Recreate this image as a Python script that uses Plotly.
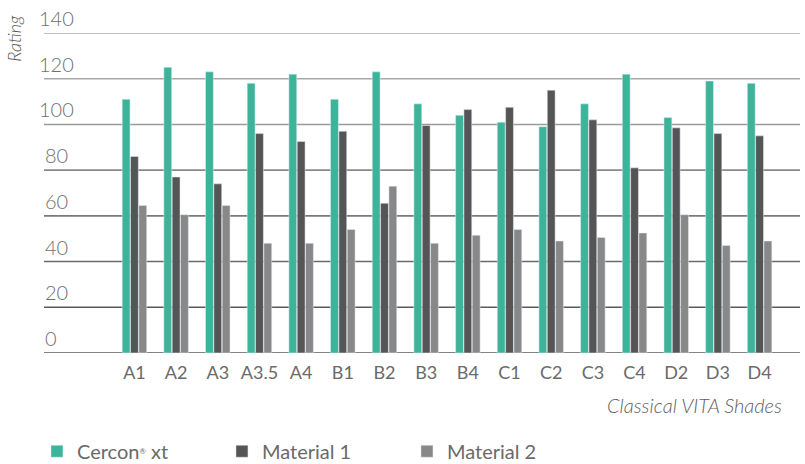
import plotly.graph_objects as go

shades = ["A1", "A2", "A3", "A3.5", "A4", "B1", "B2", "B3", "B4",
          "C1", "C2", "C3", "C4", "D2", "D3", "D4"]
cercon = [111, 125, 123, 118, 122, 111, 123, 109, 104, 101, 99, 109, 122, 103, 119, 118]
material1 = [86, 77, 74, 96, 92.5, 97, 65.5, 99.5, 106.5, 107.5, 115, 102, 81, 98.5, 96, 95]
material2 = [64.5, 60.5, 64.5, 48, 48, 54, 73, 48, 51.5, 54, 49, 50.5, 52.5, 60.5, 47, 49]
y_ticks = [0, 20, 40, 60, 80, 100, 120, 140]
grid_colors = ["#5a5a5a", "#5a5a5a", "#6a6a6a", "#7a7a7a", "#8a8a8a", "#9a9a9a", "#a8a8a8", "#aaaaaa"]

FONT = "Lato Light, Lato"
FONT_REG = "Lato"

fig = go.Figure()
fig.add_trace(go.Bar(name="Cercon<span style='font-size:11px'><sup>®</sup></span> xt",
                     x=shades, y=cercon, marker_color="#3db39a"))
fig.add_trace(go.Bar(name="Material 1", x=shades, y=material1, marker_color="#555555"))
fig.add_trace(go.Bar(name="Material 2", x=shades, y=material2, marker_color="#888888"))

shapes = []
for v, c in zip(y_ticks, grid_colors):
    shapes.append(dict(type="line", xref="paper", x0=0, x1=1, yref="y", y0=v, y1=v,
                       line=dict(color=c, width=1.6), layer="below"))

annotations = []
for v in y_ticks:
    label = str(v)
    annotations.append(dict(text=label, xref="paper", x=0, yref="y", y=v,
                            xanchor="left", yanchor="bottom", showarrow=False,
                            font=dict(family=FONT, size=20, color="#707070", weight=300),
                            xshift=-7 if label.startswith("1") else -1, yshift=1))
annotations.append(dict(text="<i>Rating</i>", xref="paper", x=-0.039, yref="paper", y=0.984,
                        textangle=-90, showarrow=False, xanchor="center", yanchor="middle",
                        font=dict(family=FONT, size=18, color="#555555", weight=300)))
annotations.append(dict(text="<i>Classical VITA Shades</i>", xref="paper", x=0.979, yref="paper", y=-0.161,
                        showarrow=False, xanchor="right", yanchor="middle",
                        font=dict(family=FONT, size=20, color="#5f5f5f", weight=300)))

fig.update_layout(
    width=805, height=464,
    margin=dict(l=44, r=5, t=33, b=110.5, autoexpand=False),
    paper_bgcolor="white", plot_bgcolor="white",
    barmode="group", bargap=0.4, bargroupgap=0.06,
    font=dict(family=FONT, color="#666666", weight=300),
    xaxis=dict(range=[-2.17, 15.97], showgrid=False, zeroline=False, showline=False,
               automargin=False,
               ticks="outside", ticklen=3, tickcolor="rgba(0,0,0,0)",
               tickfont=dict(family=FONT_REG, size=18, color="#6a6a6a", weight=400)),
    yaxis=dict(range=[0, 140], showgrid=False, zeroline=False, showticklabels=False,
               automargin=False),
    shapes=shapes,
    annotations=annotations,
    legend=dict(orientation="h", x=-0.0093, xanchor="left", y=-0.307, yanchor="middle",
                font=dict(family=FONT_REG, size=20, color="#6a6a6a", weight=400), entrywidth=140,
                traceorder="normal"),
)

fig.write_html("out.html", config={"displayModeBar": False},
               post_script="document.body.style.margin='0';")
